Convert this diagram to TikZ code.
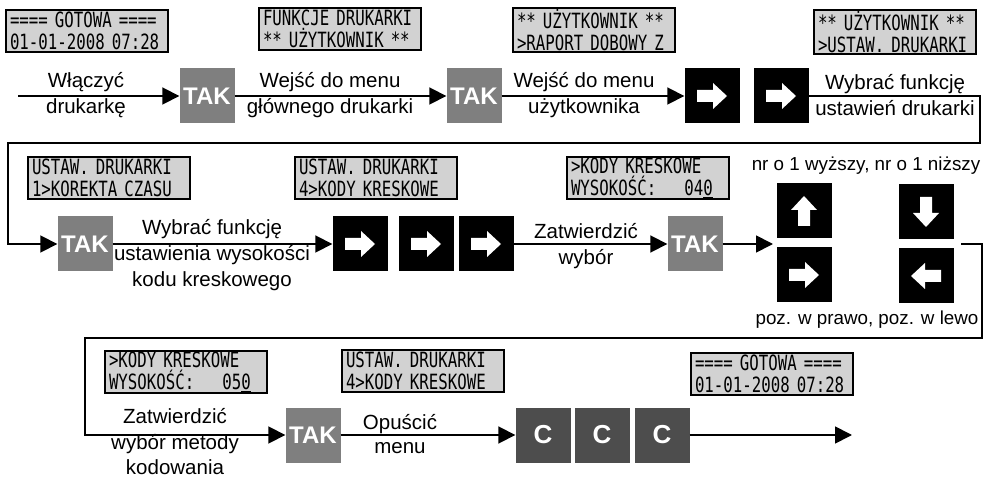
\documentclass[tikz,border=0pt]{standalone}
\usepackage{fontspec}
\usetikzlibrary{arrows.meta}
\newfontfamily\arialfont{Liberation Sans}
\newfontfamily\lcdfont[FakeStretch=0.75]{DejaVu Sans Mono}
\definecolor{takgray}{HTML}{7F7F7F}
\definecolor{cgray}{HTML}{4D4D4D}
\definecolor{lcdgray}{HTML}{D2D2D2}

% white arrow drawn on a black key
\newcommand\keyarrow[2]{%
  \begin{scope}[shift={(#1.center)},rotate=#2]
    \fill[white] (-15,-6) -- (1,-6) -- (1,-13) -- (15,0) -- (1,13) -- (1,6) -- (-15,6) -- cycle;
  \end{scope}}

\begin{document}
\begin{tikzpicture}[x=1pt,y=-1pt,
    lcd/.style={draw,line width=2.2pt,fill=lcdgray,font=\lcdfont\fontsize{21}{21.5}\selectfont,
      text width=154pt,align=left,inner xsep=4pt,inner ysep=1.5pt,minimum height=42pt},
    tak/.style={fill=takgray,text=white,font=\arialfont\bfseries\fontsize{24}{24}\selectfont,
      minimum size=55pt,inner sep=0pt},
    keybox/.style={fill=black,minimum size=55pt,inner sep=0pt},
    ckey/.style={fill=cgray,text=white,font=\arialfont\bfseries\fontsize{26}{26}\selectfont,
      minimum size=55pt,inner sep=0pt},
    lbl/.style={font=\arialfont\fontsize{20.5}{26}\selectfont,align=center,inner sep=0pt},
    small/.style={font=\arialfont\fontsize{18.8}{22}\selectfont,inner sep=0pt},
    flow/.style={line width=1.8pt,-{Triangle[length=17pt,width=17pt]}}]
    \useasboundingbox (0,0) rectangle (983,478);

    % row 1
    \node[lcd] (lcd1) at (87,31) {==== GOTOWA ====\\01-01-2008 07:28};
    \node[lcd] (lcd2) at (340,29) {FUNKCJE DRUKARKI\\{}** UŻYTKOWNIK **};
    \node[lcd] (lcd3) at (594,30) {** UŻYTKOWNIK **\\>RAPORT DOBOWY Z};
    \node[lcd] (lcd4) at (895,32) {** UŻYTKOWNIK **\\>USTAW. DRUKARKI};

    \node[tak] (tak1) at (207,96) {TAK};
    \node[tak] (tak2) at (474,96) {TAK};
    \node[keybox] (k1) at (712,96) {};
    \node[keybox] (k2) at (781,96) {};

    \node[lbl] (l1) at (86,95) {Włączyć\\drukarkę};
    \node[lbl] (l2) at (330,95) {Wejść do menu\\głównego drukarki};
    \node[lbl] (l3) at (584,95) {Wejść do menu\\użytkownika};
    \node[lbl] (l4) at (895,95) {Wybrać funkcję\\ustawień drukarki};

    \coordinate (start) at (18,96);
    \coordinate (r1e) at (980,143);
    \coordinate (r2w) at (8,143);

    % row 2
    \node[lcd] (lcd5) at (109,178) {USTAW. DRUKARKI\\1>KOREKTA CZASU};
    \node[lcd] (lcd6) at (376,178) {USTAW. DRUKARKI\\4>KODY KRESKOWE};
    \node[lcd] (lcd7) at (648,178) {>KODY KRESKOWE\\WYSOKOŚĆ:~~~~04\underline{0}};

    \node[tak] (tak3) at (85,244) {TAK};
    \node[keybox] (k3) at (360,244) {};
    \node[keybox] (k4) at (426,244) {};
    \node[keybox] (k5) at (486,244) {};
    \node[tak] (tak4) at (695,244) {TAK};
    \node[keybox] (kup) at (804,211) {};
    \node[keybox] (kright) at (804,275) {};
    \node[keybox] (kdown) at (926,212) {};
    \node[keybox] (kleft) at (926,276) {};

    \node[lbl] (l5) at (212,255) {Wybrać funkcję\\ustawienia wysokości\\kodu kreskowego};
    \node[lbl] (l6) at (586,246) {Zatwierdzić\\wybór};
    \node[small] (l7) at (866,166) {nr o 1 wyższy, nr o 1 niższy};
    \node[small] (l8) at (867,320) {poz. w prawo, poz. w lewo};

    \coordinate (keysin) at (773,244);
    \coordinate (keysout) at (961,244);
    \coordinate (r2e) at (982,338);
    \coordinate (r3w) at (85,338);

    % row 3
    \node[lcd] (lcd8) at (186,372) {>KODY KRESKOWE\\WYSOKOŚĆ:~~~~05\underline{0}};
    \node[lcd] (lcd9) at (423,371) {USTAW. DRUKARKI\\4>KODY KRESKOWE};
    \node[lcd] (lcd10) at (772,374) {==== GOTOWA ====\\01-01-2008 07:28};

    \node[tak] (tak5) at (313,435) {TAK};
    \node[ckey] (c1) at (543,435) {C};
    \node[ckey] (c2) at (602,435) {C};
    \node[ckey] (c3) at (662,435) {C};

    \node[lbl,font=\arialfont\fontsize{20.5}{25.5}\selectfont] (l9) at (175,442) {Zatwierdzić\\wybór metody\\kodowania};
    \node[lbl,font=\arialfont\fontsize{20.5}{24}\selectfont] (l10) at (400,434) {Opuścić\\menu};

    \coordinate (fin) at (852,435);

    \foreach \k in {k1,k2,k3,k4,k5,kright}
      {\keyarrow{\k}{0}}
    \keyarrow{kup}{90}
    \keyarrow{kdown}{-90}
    \keyarrow{kleft}{180}

    \draw[flow] (start) -- (tak1);
    \draw[flow] (tak1) -- (tak2);
    \draw[flow] (tak2) -- (k1);
    \draw[flow] (k2.east) -| (r1e) -- (r2w) |- (tak3.west);
    \draw[flow] (tak3) -- (k3);
    \draw[flow] (k5) -- (tak4);
    \draw[flow] (tak4) -- (keysin);
    \draw[flow] (keysout) -| (r2e) -- (r3w) |- (tak5.west);
    \draw[flow] (tak5) -- (c1);
    \draw[flow] (c3) -- (fin);
\end{tikzpicture}
\end{document}
